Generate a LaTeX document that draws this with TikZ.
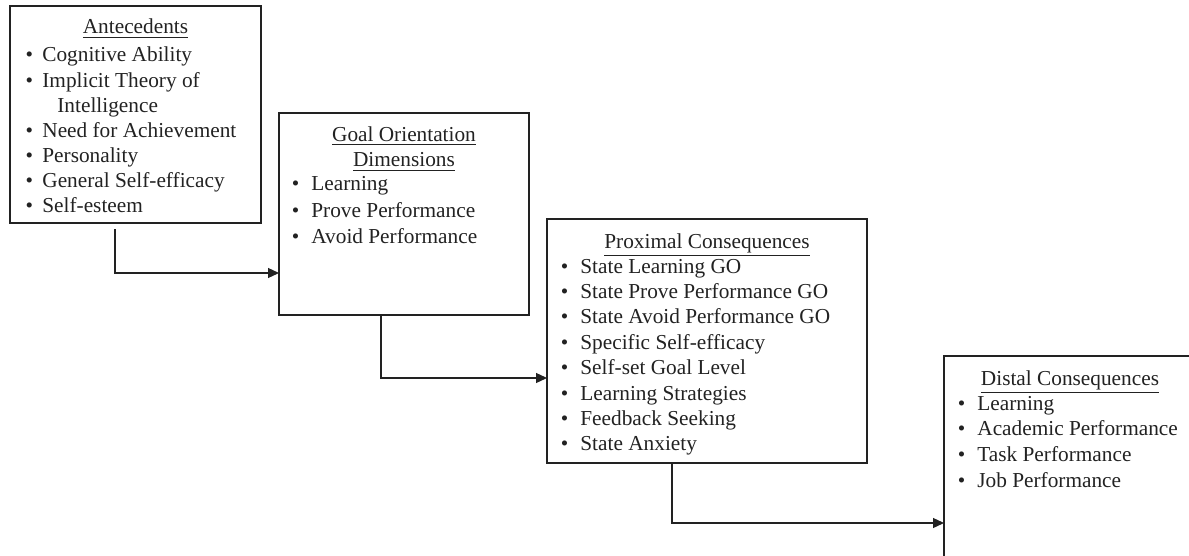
\documentclass[tikz,border=0pt]{standalone}
\usepackage{fontspec}
\setmainfont{Liberation Serif}
\usetikzlibrary{arrows.meta}
\definecolor{ink}{HTML}{222222}
% bullet hung to the left of an item's text
\newcommand\bul[1][6pt]{\llap{\textbullet\hspace{#1}}}
\begin{document}
\fontsize{10.65}{12.6}\selectfont
\begin{tikzpicture}[x=0.5pt,y=-0.5pt,
  box/.style={draw=ink, line width=1pt, anchor=north west, inner sep=0pt, outer sep=0pt},
  ttl/.style={anchor=base, inner sep=0pt, text=ink},
  itm/.style={anchor=base west, inner sep=0pt, text=ink},
  arr/.style={draw=ink, line width=0.65pt, -{Triangle[length=5.5pt,width=5pt]}}]
\path[use as bounding box] (0,0) rectangle (1189,556);
\clip (0,0) rectangle (1189,556);

% ---- boxes ----
\node[box, minimum width=125.5pt, minimum height=108.5pt] (ante) at (10,6) {};
\node[box, minimum width=125pt,   minimum height=101pt]   (go)   at (279,113) {};
\node[box, minimum width=160pt,   minimum height=122pt]   (prox) at (547,219) {};
\node[box, minimum width=132pt,   minimum height=120pt]   (dist) at (944,356) {};

% ---- Antecedents ----
\node[ttl] (ante-t) at (135.5,34) {\underline{Antecedents}};
\node[itm] (ante-1) at (42,62)    {\bul[4.6pt]Cognitive Ability};
\node[itm] (ante-2) at (42,87.2)  {\bul[4.6pt]Implicit Theory of};
\node[itm] (ante-3) at (57,112.3) {Intelligence};
\node[itm] (ante-4) at (42,137.5) {\bul[4.6pt]Need for Achievement};
\node[itm] (ante-5) at (42,162.7) {\bul[4.6pt]Personality};
\node[itm] (ante-6) at (42,187.8) {\bul[4.6pt]General Self-efficacy};
\node[itm] (ante-7) at (42,213)   {\bul[4.6pt]Self-esteem};

% ---- Goal orientation dimensions ----
\node[ttl] (go-t1) at (404,141) {\underline{Goal Orientation}};
\node[ttl] (go-t2) at (404,167) {\underline{Dimensions}};
\foreach \t [count=\i] in {Learning, Prove Performance, Avoid Performance}
  \node[itm] (go-\i) at (311,{191+26*(\i-1)}) {\bul\t};

% ---- Proximal consequences ----
\node[ttl] (prox-t) at (707,248) {\underline{Proximal Consequences}};
\foreach \t [count=\i] in {State Learning GO, State Prove Performance GO,
    State Avoid Performance GO, Specific Self-efficacy, Self-set Goal Level,
    Learning Strategies, Feedback Seeking, State Anxiety}
  \node[itm] (prox-\i) at (580,{273+25.4*(\i-1)}) {\bul\t};

% ---- Distal consequences ----
\node[ttl] (dist-t) at (1070,385) {\underline{Distal Consequences}};
\foreach \t [count=\i] in {Learning, Academic Performance, Task Performance, Job Performance}
  \node[itm] (dist-\i) at (977,{410+25.7*(\i-1)}) {\bul\t};

% ---- connectors ----
\coordinate (s1) at (115,229);
\coordinate (h1) at (0,273);
\draw[arr] (s1) |- (go.west |- h1);

\coordinate (v2) at (381,0);
\coordinate (h2) at (0,378);
\draw[arr] (go.south -| v2) |- (prox.west |- h2);

\coordinate (v3) at (672,0);
\coordinate (h3) at (0,523);
\draw[arr] (prox.south -| v3) |- (dist.west |- h3);
\end{tikzpicture}
\end{document}
